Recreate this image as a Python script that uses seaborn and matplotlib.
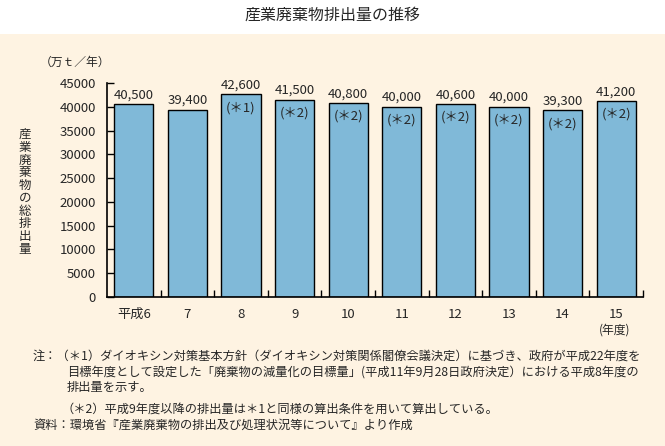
import matplotlib
matplotlib.use("Agg")
import matplotlib.pyplot as plt
import seaborn as sns
import pandas as pd
from matplotlib.ticker import FixedLocator

years = ["平成6", "7", "8", "9", "10", "11", "12", "13", "14", "15"]
values = [40500, 39400, 42600, 41500, 40800, 40000, 40600, 40000, 39300, 41200]
notes = ["", "", "(＊1)", "(＊2)", "(＊2)", "(＊2)", "(＊2)", "(＊2)", "(＊2)", "(＊2)"]
yticks = [0, 5000, 10000, 15000, 20000, 25000, 30000, 35000, 40000, 45000]

sns.set_theme(style="white")
plt.rcParams['font.family'] = ['Noto Sans CJK JP', 'DejaVu Sans']

bg = "#FEF3E2"
bar_color = "#80B9D8"

fig = plt.figure(figsize=(6.65, 4.46), dpi=100)
fig.patch.set_facecolor("white")
fig.patches.append(plt.Rectangle((0, 0), 1, 1 - 34/446, transform=fig.transFigure,
                                 facecolor=bg, edgecolor="none", zorder=-10))

ax = fig.add_axes([107/665, 1 - 297/446, 536/665, 214/446])
ax.set_facecolor(bg)
ax.patch.set_alpha(0)

df = pd.DataFrame({"year": years, "value": values})
sns.barplot(data=df, x="year", y="value", color=bar_color, width=0.73,
            edgecolor="black", linewidth=1.0, saturation=1, ax=ax)

ax.set_xlim(-0.5, len(years) - 0.5)
ax.set_ylim(0, 45000)
ax.set_yticks(yticks)
ax.set_yticklabels([str(v) for v in yticks], fontsize=9.5)
ax.set_xticks(range(len(years)))
ax.set_xticklabels(years, fontsize=9.5)
ax.tick_params(axis="x", which="major", length=0, pad=8)
ax.xaxis.set_minor_locator(FixedLocator([i + 0.5 for i in range(len(years))]))
ax.tick_params(axis="x", which="minor", direction="in", length=5, width=1, color="black", bottom=True)
ax.tick_params(axis="y", direction="in", length=5, width=1, color="black", left=True, pad=8)
ax.set_xlabel("")
ax.set_ylabel("")
for s in ["top", "right"]:
    ax.spines[s].set_visible(False)
for s in ["left", "bottom"]:
    ax.spines[s].set_color("black")
    ax.spines[s].set_linewidth(1.2)

for i, (v, n) in enumerate(zip(values, notes)):
    ax.annotate(f"{v:,}", (i, v), xytext=(0, 2), textcoords="offset points",
                ha="center", va="bottom", fontsize=9.5)
    if n:
        ax.annotate(n, (i, v), xytext=(0, -5), textcoords="offset points",
                    ha="center", va="top", fontsize=9.5)

fig.text(332/665, 1 - 15/446, "産業廃棄物排出量の推移", ha="center", va="center", fontsize=11.5)
fig.text(75/665, 1 - 62/446, "（万ｔ／年）", ha="center", va="center", fontsize=8.5)
fig.text(615/665, 1 - 330/446, "(年度)", ha="center", va="center", fontsize=8.5)
fig.text(25/665, 1 - 192/446, "\n".join("産業廃棄物の総排出量"), ha="center", va="center",
         fontsize=9, linespacing=0.98)

fs = 8.8
fig.text(33/665, 1 - 356/446, "注：（＊1）ダイオキシン対策基本方針（ダイオキシン対策関係閣僚会議決定）に基づき、政府が平成22年度を",
         ha="left", va="center", fontsize=fs)
fig.text(67/665, 1 - 372/446, "目標年度として設定した「廃棄物の減量化の目標量」(平成11年9月28日政府決定）における平成8年度の",
         ha="left", va="center", fontsize=fs)
fig.text(67/665, 1 - 388/446, "排出量を示す。", ha="left", va="center", fontsize=fs)
fig.text(62/665, 1 - 409/446, "（＊2）平成9年度以降の排出量は＊1と同様の算出条件を用いて算出している。",
         ha="left", va="center", fontsize=fs)
fig.text(33/665, 1 - 425/446, "資料：環境省『産業廃棄物の排出及び処理状況等について』より作成",
         ha="left", va="center", fontsize=fs)

fig.savefig("out.png", dpi=100, facecolor=fig.get_facecolor())
